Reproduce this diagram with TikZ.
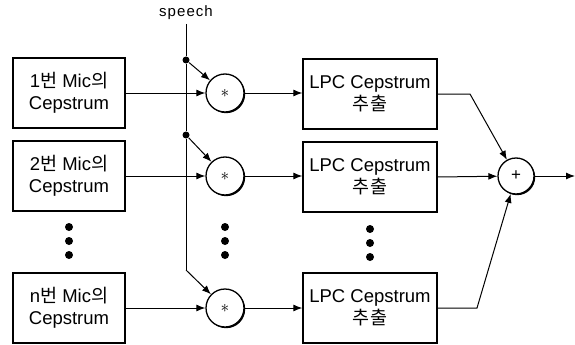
\documentclass[tikz,border=0pt]{standalone}
\usepackage{fontspec}
\setmainfont{Liberation Sans}
\newfontfamily\krfont{Noto Sans CJK KR}
\usetikzlibrary{arrows.meta,shadows}

\begin{document}
\begin{tikzpicture}[x=1pt,y=-1pt,line width=1pt,
  box/.style={draw,fill=white,line width=1.3pt,minimum width=112pt,minimum height=70pt,inner sep=0pt,align=center,font=\fontsize{18.5}{22}\selectfont,
    general shadow={shadow xshift=1.2pt,shadow yshift=-1.2pt,fill=black}},
  lpcbox/.style={box,minimum width=134pt},
  mulnode/.style={draw,fill=white,circle,line width=1.3pt,minimum size=38pt,inner sep=0pt,
    general shadow={shadow xshift=1.2pt,shadow yshift=-1.2pt,fill=black}},
  jdot/.style={circle,fill,inner sep=0pt,minimum size=7pt},
  vdot/.style={circle,fill,inner sep=0pt,minimum size=8pt},
  arr/.style={-{Latex[length=9pt,width=7pt]}}]
\useasboundingbox (0,0) rectangle (575,345);
\node[font=\fontsize{15}{17}\selectfont\addfontfeature{LetterSpace=7}] (speech) at (186,13) {speech};
\node[box] (mic1) at (69,93) {1{\krfont 번} Mic{\krfont 의}\\Cepstrum};
\node[box] (mic2) at (69,176) {2{\krfont 번} Mic{\krfont 의}\\Cepstrum};
\node[box] (micn) at (69,308) {n{\krfont 번} Mic{\krfont 의}\\Cepstrum};
\node[mulnode,font=\fontsize{16}{16}\selectfont] (mul1) at (225,93) {$\ast$};
\node[mulnode,font=\fontsize{16}{16}\selectfont] (mul2) at (225,176) {$\ast$};
\node[mulnode,font=\fontsize{16}{16}\selectfont] (muln) at (225,308) {$\ast$};
\node[lpcbox] (lpc1) at (370,94) {LPC Cepstrum\\{\krfont 추출}};
\node[lpcbox] (lpc2) at (370,177) {LPC Cepstrum\\{\krfont 추출}};
\node[lpcbox] (lpcn) at (370,308) {LPC Cepstrum\\{\krfont 추출}};
\node[mulnode,minimum size=36pt,font=\fontsize{17}{17}\selectfont] (sum) at (516,176) {+};
\node[jdot] (j1) at (186,60) {};
\node[jdot] (j2) at (186,135) {};
\coordinate (jn) at (186,270);
\coordinate (out) at (575,176);
\coordinate (k1) at (470,94);
\coordinate (kn) at (477,308);
\node[vdot] (da1) at (69,227) {};
\node[vdot] (da2) at (69,241) {};
\node[vdot] (da3) at (69,255) {};
\node[vdot] (db1) at (225,227) {};
\node[vdot] (db2) at (225,241) {};
\node[vdot] (db3) at (225,255) {};
\node[vdot] (dc1) at (370,229) {};
\node[vdot] (dc2) at (370,243) {};
\node[vdot] (dc3) at (370,257) {};
\draw (speech) -- (j1) -- (j2) -- (jn);
\draw[arr] (jn) -- (muln);
\draw[arr] (j1) -- (mul1);
\draw[arr] (j2) -- (mul2);
\draw[arr] (mic1) -- (mul1);
\draw[arr] (mic2) -- (mul2);
\draw[arr] (micn) -- (muln);
\draw[arr] (mul1) -- (lpc1.west |- mul1);
\draw[arr] (mul2) -- (lpc2.west |- mul2);
\draw[arr] (muln) -- (lpcn);
\draw[arr] (lpc1.east) -- (k1) -- (sum);
\draw[arr] (lpc2.east) -- (sum);
\draw[arr] (lpcn.east) -- (kn) -- (sum);
\draw[arr] (sum) -- (out);
\end{tikzpicture}
\end{document}
